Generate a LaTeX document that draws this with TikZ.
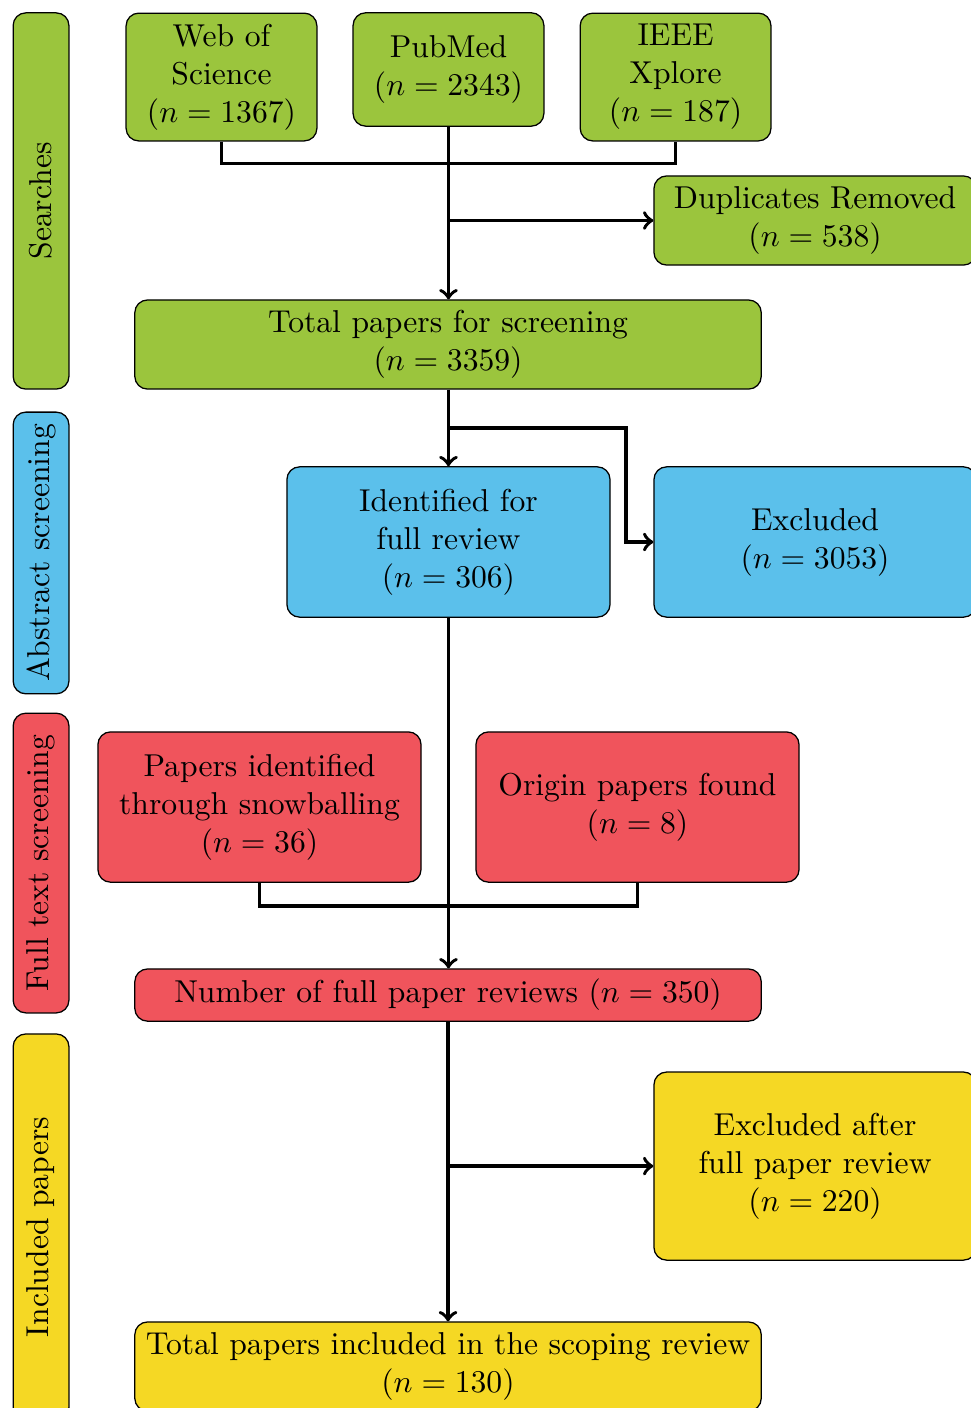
\documentclass[tikz,border=0pt]{standalone}
\usepackage{tikz}
\usetikzlibrary{shapes,arrows}
\usetikzlibrary{calc}
\definecolor{searchgreen}{HTML}{9BC53D}
\definecolor{abstractblue}{HTML}{5BC0EB}
\definecolor{fullred}{HTML}{F0545C}
\definecolor{inclyellow}{HTML}{F5D824}
\tikzstyle{stageblock} = [rectangle, draw, rounded corners, align=center, inner sep=2pt]
\tikzstyle{phaseblock} = [rectangle, draw, rounded corners, rotate=90,
    minimum height=0.62cm, inner sep=0pt]
\tikzstyle{line} = [draw, ->, line width=1.15pt]
\tikzstyle{joint} = [draw, line width=1.15pt]
\usepackage{amsmath}
\usepackage{amssymb}
\begin{document}
\begin{tikzpicture}
    \useasboundingbox (0,0) rectangle (10.778,-15.644);
    % Phase labels
    \node [phaseblock, fill=searchgreen, minimum width=4.18cm] (searches) at (0.456,-2.233) {Searches};
    \node [phaseblock, fill=abstractblue, minimum width=3.13cm] (abstract) at (0.456,-6.144) {Abstract screening};
    \node [phaseblock, fill=fullred, minimum width=3.33cm] (fulltext) at (0.456,-9.589) {Full text screening};
    \node [phaseblock, fill=inclyellow, minimum width=4.29cm] (included) at (0.456,-13.633) {Included papers};
    % Searches
    \node [stageblock, fill=searchgreen, minimum width=2.12cm, minimum height=1.42cm] (wos) at (2.461,-0.856)
        {Web of\\ Science\\ $(n = 1367)$};
    \node [stageblock, fill=searchgreen, minimum width=2.12cm, minimum height=1.26cm] (pubmed) at (4.983,-0.772)
        {PubMed\\ $(n = 2343)$};
    \node [stageblock, fill=searchgreen, minimum width=2.12cm, minimum height=1.42cm] (ieee) at (7.506,-0.856)
        {IEEE\\ Xplore\\ $(n = 187)$};
    \node [stageblock, fill=searchgreen, minimum width=3.58cm, minimum height=0.99cm] (dup) at (9.056,-2.45)
        {Duplicates Removed\\ $(n = 538)$};
    \node [stageblock, fill=searchgreen, minimum width=6.96cm, minimum height=0.99cm] (screen) at (4.978,-3.828)
        {Total papers for screening\\ $(n = 3359)$};
    % Abstract screening
    \node [stageblock, fill=abstractblue, minimum width=3.59cm, minimum height=1.67cm] (ident) at (4.983,-6.022)
        {Identified for\\ full review\\ $(n = 306)$};
    \node [stageblock, fill=abstractblue, minimum width=3.58cm, minimum height=1.67cm] (excl) at (9.056,-6.022)
        {Excluded\\ $(n = 3053)$};
    % Full text screening
    \node [stageblock, fill=fullred, minimum width=3.59cm, minimum height=1.67cm] (snow) at (2.883,-8.967)
        {Papers identified\\ through snowballing\\ $(n = 36)$};
    \node [stageblock, fill=fullred, minimum width=3.59cm, minimum height=1.67cm] (origin) at (7.083,-8.967)
        {Origin papers found\\ $(n = 8)$};
    \node [stageblock, fill=fullred, minimum width=6.96cm, minimum height=0.58cm] (fullrev) at (4.978,-11.056)
        {Number of full paper reviews $(n = 350)$};
    % Included papers
    \node [stageblock, fill=inclyellow, minimum width=3.58cm, minimum height=2.09cm] (exafter) at (9.056,-12.956)
        {Excluded after\\ full paper review\\ $(n = 220)$};
    \node [stageblock, fill=inclyellow, minimum width=6.96cm, minimum height=0.99cm] (total) at (4.978,-15.183)
        {Total papers included in the scoping review\\ $(n = 130)$};
    % Draw edges
    \path[joint] (wos.south) -- ++(0,-0.244) -| (ieee.south);
    \path[line] (pubmed.south) -- (pubmed.south |- screen.north);
    \path[line] (pubmed.south |- dup.west) -- (dup.west);
    \coordinate (bend) at (6.956,-4.756);
    \path[line] (ident.north |- screen.south) -- (ident.north);
    \path[line] (ident.north |- bend) -- (bend) |- (excl.west);
    \path[joint] (snow.south) -- ++(0,-0.256) -| (origin.south);
    \path[line] (ident.south) -- (ident.south |- fullrev.north);
    \path[line] (fullrev.south) -- (total.north);
    \path[line] (fullrev.south |- exafter.west) -- (exafter.west);
\end{tikzpicture}
\end{document}
